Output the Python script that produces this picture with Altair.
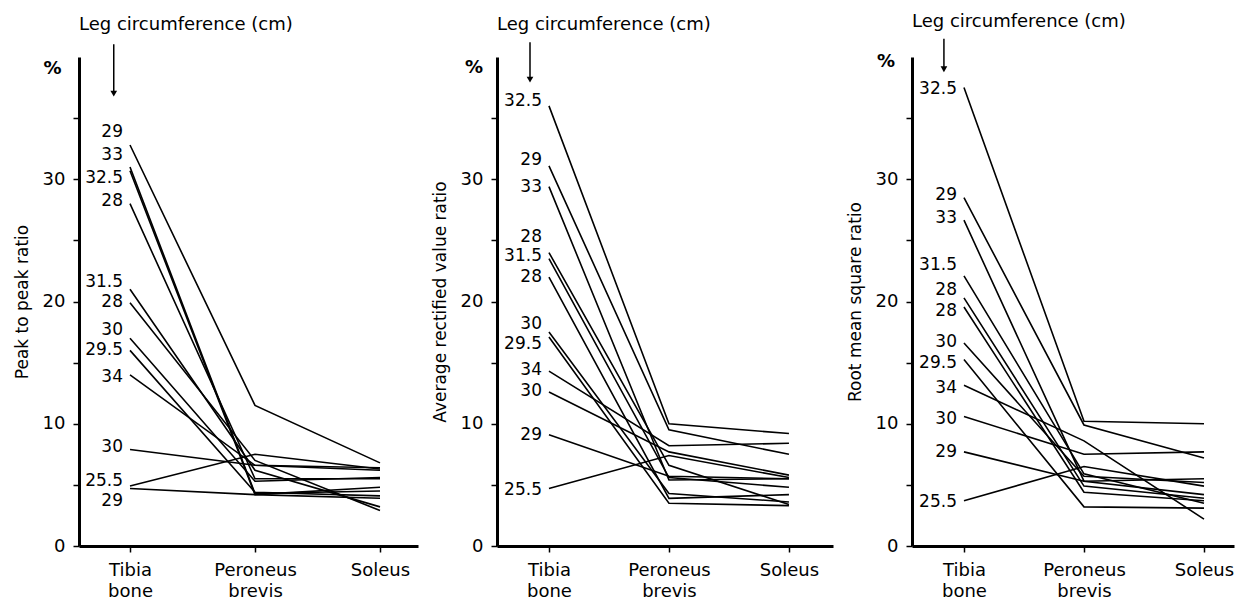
import altair as alt
import pandas as pd

FONT = "DejaVu Sans"

muscles = ["Tibia bone", "Peroneus brevis", "Soleus"]
y_titles = ["Peak to peak ratio", "Average rectified value ratio", "Root mean square ratio"]
header_text = "Leg circumference (cm)"

# Panel 1: peak to peak ratio (%)
circ_1 = ["29", "33", "32.5", "28", "31.5", "28", "30", "29.5", "34", "30", "25.5", "29"]
tibia_1 = [32.8, 31.0, 30.7, 28.0, 21.0, 19.9, 17.0, 16.0, 14.0, 7.9, 4.9, 4.7]
peron_1 = [11.5, 4.3, 4.2, 5.5, 6.2, 7.0, 5.3, 4.4, 6.6, 6.6, 7.5, 4.2]
soleus_1 = [6.8, 4.5, 3.9, 5.5, 3.2, 2.9, 5.6, 4.1, 6.2, 6.4, 6.3, 4.8]
label_y_1 = [33.9, 32.0, 30.1, 28.2, 21.6, 20.0, 17.7, 16.0, 13.8, 8.1, 5.35, 3.7]

# Panel 2: average rectified value ratio (%)
circ_2 = ["32.5", "29", "33", "28", "31.5", "28", "30", "29.5", "34", "30", "29", "25.5"]
tibia_2 = [36.0, 31.1, 29.4, 24.0, 23.5, 22.0, 17.5, 17.1, 14.3, 12.6, 9.1, 4.7]
peron_2 = [10.0, 9.5, 5.4, 6.6, 5.6, 3.9, 4.3, 3.5, 8.2, 7.7, 5.7, 7.4]
soleus_2 = [9.2, 7.5, 5.5, 3.4, 4.8, 4.2, 3.6, 3.3, 8.4, 5.8, 5.5, 5.6]
label_y_2 = [36.4, 31.6, 29.4, 25.3, 23.7, 22.0, 18.2, 16.5, 14.4, 12.7, 9.05, 4.6]

# Panel 3: root mean square ratio (%)
circ_3 = ["32.5", "29", "33", "31.5", "28", "28", "30", "29.5", "34", "30", "29", "25.5"]
tibia_3 = [37.5, 28.5, 26.65, 22.1, 20.3, 19.55, 16.6, 15.25, 13.15, 10.6, 7.7, 3.7]
peron_3 = [10.2, 9.9, 5.3, 5.9, 4.9, 4.4, 5.7, 3.2, 8.6, 7.5, 5.3, 6.5]
soleus_3 = [10.0, 7.2, 4.2, 3.5, 3.9, 3.7, 5.2, 3.1, 2.2, 7.7, 5.5, 4.9]
label_y_3 = [37.4, 28.7, 26.8, 23.0, 20.9, 19.2, 16.7, 15.0, 12.9, 10.4, 7.7, 3.6]

# annotation anchors (data units): x domain, arrow x / y-range, header y, "%" x/y
x_domains = [[-0.408, 2.304], [-0.433, 2.367], [-0.433, 2.25]]
widths = [339, 336, 322]
arrow_x = [-0.13, -0.158, -0.167]
arrow_top = [41.05, 41.2, 41.5]
arrow_bot = [37.0, 38.15, 39.0]
header_y = [42.6, 42.65, 42.9]
pct_x = [-0.62, -0.625, -0.65]
pct_y = [39.0, 39.1, 39.6]

HEIGHT = 489


def make_panel(k, circ, tib, per, sol, label_y):
    rows = []
    for i, vals in enumerate(zip(tib, per, sol)):
        for j, v in enumerate(vals):
            rows.append({"subject": i, "pos": j, "muscle": muscles[j], "value": v})
    df = pd.DataFrame(rows)
    labs = pd.DataFrame({"circ": circ, "ly": label_y, "pos": [0] * len(circ)})
    ann = pd.DataFrame({
        "ax": [arrow_x[k]], "at": [arrow_top[k]], "ab": [arrow_bot[k]],
        "hx": [x_domains[k][0]], "hy": [header_y[k]], "htext": [header_text],
        "px": [pct_x[k]], "py": [pct_y[k]], "ptext": ["%"],
    })

    xs = alt.Scale(domain=x_domains[k], nice=False, zero=False)
    ys = alt.Scale(domain=[0, 40], nice=False, zero=False)
    xaxis = alt.Axis(
        values=[0, 1, 2], title=None, grid=False,
        labelExpr="datum.value == 0 ? ['Tibia','bone'] : datum.value == 1 ? ['Peroneus','brevis'] : 'Soleus'",
        labelFont=FONT, labelFontSize=18, labelColor="black", labelPadding=9,
        labelLineHeight=21, labelOverlap=False,
        domainColor="black", domainWidth=3, tickColor="black", tickWidth=1.5, tickSize=6,
    )
    yaxis = alt.Axis(
        values=[0, 5, 10, 15, 20, 25, 30, 35], grid=False,
        labelExpr="datum.value % 10 == 0 ? datum.label : ''",
        title=y_titles[k], titleFont=FONT, titleFontSize=17, titleFontWeight="normal",
        titleColor="black", titlePadding=11,
        labelFont=FONT, labelFontSize=18, labelColor="black", labelPadding=8,
        domainColor="black", domainWidth=3, tickColor="black", tickWidth=1.5, tickSize=6,
    )

    lines = alt.Chart(df).mark_line(color="black", strokeWidth=1.6).encode(
        x=alt.X("pos:Q", scale=xs, axis=xaxis),
        y=alt.Y("value:Q", scale=ys, axis=yaxis),
        detail="subject:N",
        order="pos:Q",
    )
    labels = alt.Chart(labs).mark_text(
        align="right", baseline="middle", dx=-7, font=FONT, fontSize=17, color="black"
    ).encode(
        x=alt.X("pos:Q", scale=xs, axis=xaxis),
        y=alt.Y("ly:Q", scale=ys, axis=yaxis),
        text="circ:N",
    )
    arrow = alt.Chart(ann).mark_rule(color="black", strokeWidth=1.5).encode(
        x=alt.X("ax:Q", scale=xs, axis=xaxis),
        y=alt.Y("at:Q", scale=ys, axis=yaxis),
        y2="ab:Q",
    )
    head = alt.Chart(ann).mark_point(
        shape="triangle-down", filled=True, color="black", size=45, opacity=1
    ).encode(
        x=alt.X("ax:Q", scale=xs, axis=xaxis),
        y=alt.Y("ab:Q", scale=ys, axis=yaxis),
    )
    header = alt.Chart(ann).mark_text(
        align="left", baseline="middle", font=FONT, fontSize=18, color="black"
    ).encode(
        x=alt.X("hx:Q", scale=xs, axis=xaxis),
        y=alt.Y("hy:Q", scale=ys, axis=yaxis),
        text="htext:N",
    )
    pct = alt.Chart(ann).mark_text(
        align="center", baseline="middle", font=FONT, fontSize=18, fontWeight="bold", color="black"
    ).encode(
        x=alt.X("px:Q", scale=xs, axis=xaxis),
        y=alt.Y("py:Q", scale=ys, axis=yaxis),
        text="ptext:N",
    )
    return alt.layer(lines, labels, arrow, head, header, pct).properties(
        width=widths[k], height=HEIGHT
    )


p1 = make_panel(0, circ_1, tibia_1, peron_1, soleus_1, label_y_1)
p2 = make_panel(1, circ_2, tibia_2, peron_2, soleus_2, label_y_2)
p3 = make_panel(2, circ_3, tibia_3, peron_3, soleus_3, label_y_3)

chart = alt.hconcat(p1, p2, p3, spacing=79, bounds="flush").properties(
    padding={"left": 5, "right": 5, "top": 4, "bottom": 0},
    background="white",
).configure_axis(
    domainColor="black", domainWidth=3, domainOpacity=1,
    tickColor="black", tickWidth=1.5, tickSize=6, tickOpacity=1,
).configure_view(stroke=None)

chart.save("out.html", embed_options={"renderer": "svg", "actions": False})
